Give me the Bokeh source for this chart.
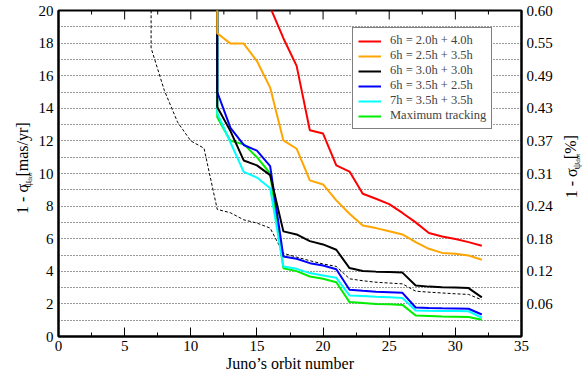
import math
from bokeh.plotting import figure
from bokeh.layouts import row
from bokeh.models import (Range1d, LinearAxis, SingleIntervalTicker, FixedTicker,
                          Legend, LegendItem)
from bokeh.core.properties import value
from bokeh.embed import file_html
from bokeh.resources import INLINE

# ---------------- data ----------------
orbits_red = [16, 17, 18, 19, 20, 21, 22, 23, 24, 25, 26, 27, 28, 29, 30, 31, 32]
red = [20.2, 18.3, 16.6, 12.65, 12.45, 10.5, 10.12, 8.76, 8.45, 8.12, 7.58, 7.0, 6.35, 6.14, 5.98, 5.79, 5.57]

orbits = [12, 12, 13, 14, 15, 16, 17, 18, 19, 20, 21, 22, 23, 24, 25, 26, 27, 28, 29, 30, 31, 32]
orange = [24, 18.6, 17.97, 17.97, 16.9, 15.27, 12.03, 11.52, 9.58, 9.33, 8.35, 7.53, 6.81, 6.65, 6.46, 6.26, 5.79, 5.38, 5.13, 5.07, 4.97, 4.71]
black = [24, 14.08, 12.6, 10.8, 10.5, 9.9, 6.45, 6.26, 5.85, 5.65, 5.32, 4.2, 4.02, 3.98, 3.95, 3.92, 3.13, 3.06, 3.02, 3.0, 2.97, 2.4]
blue = [24, 15.0, 12.8, 11.75, 11.4, 10.45, 4.91, 4.77, 4.5, 4.36, 4.13, 2.87, 2.8, 2.75, 2.72, 2.68, 1.78, 1.75, 1.73, 1.72, 1.70, 1.35]
cyan = [24, 13.7, 11.9, 10.1, 9.75, 9.1, 4.3, 4.15, 3.89, 3.74, 3.6, 2.52, 2.48, 2.44, 2.41, 2.36, 1.6, 1.58, 1.57, 1.56, 1.55, 1.15]
green = [24, 13.45, 12.0, 11.8, 11.0, 10.0, 4.19, 4.01, 3.68, 3.54, 3.33, 2.11, 2.06, 2.0, 1.98, 1.94, 1.29, 1.26, 1.23, 1.21, 1.19, 1.03]

orbits_dash = [7, 7, 8, 9, 10, 11, 12, 13, 14, 15, 16, 17, 18, 19, 20, 21, 22, 23, 24, 25, 26, 27, 28, 29, 30, 31, 32]
dashed = [24, 17.7, 15.1, 13.15, 12.0, 11.55, 7.8, 7.59, 7.16, 6.96, 6.65, 5.1, 4.87, 4.65, 4.45, 4.3, 3.54, 3.42, 3.33, 3.28, 3.23, 2.78, 2.72, 2.67, 2.62, 2.58, 2.25]

legend_labels = ["6h = 2.0h + 4.0h", "6h = 2.5h + 3.5h", "6h = 3.0h + 3.0h",
                 "6h = 3.5h + 2.5h", "7h = 3.5h + 3.5h", "Maximum tracking"]

right_ticks = [2, 4, 6, 8, 10, 12, 14, 16, 18, 20]
right_tick_labels = ["0.06", "0.12", "0.18", "0.24", "0.31", "0.37", "0.43", "0.49", "0.55", "0.60"]

x_major = [0, 5, 10, 15, 20, 25, 30, 35]
x_minor = [2.5, 7.5, 12.5, 17.5, 22.5, 27.5, 32.5]

# y-axis title pieces: text, font size
left_title = [("1 - σ", "16px"), ("ψ", "11px"), ("dot", "7px"), ("[mas/yr]", "16px")]
right_title = [("1 - σ", "16px"), ("ψ", "11px"), ("dot", "7px"), ("[%]", "16px")]

FONT = "Liberation Serif"

# ---------------- geometry ----------------
TOTAL_W, H = 582, 375
LW, RW = 35, 27                      # widths of the side title panels
FL, FT, FW, FH = 58, 10, 465, 326    # frame position on the page
MW = TOTAL_W - LW - RW               # main figure width
Y_FIX = 15                           # observed vertical offset of rotated text

# ---------------- main figure ----------------
p = figure(width=MW, height=H, x_range=Range1d(0, 35), y_range=Range1d(0, 20),
           output_backend="svg", toolbar_location=None,
           min_border_left=FL - LW, min_border_right=MW - (FL - LW) - FW,
           min_border_top=FT, min_border_bottom=H - FT - FH)
p.background_fill_color = "white"
p.border_fill_color = "white"
p.outline_line_color = "black"
p.outline_line_width = 2

p.xgrid.visible = False
p.ygrid.ticker = SingleIntervalTicker(interval=1)
p.ygrid.grid_line_color = "#333333"
p.ygrid.grid_line_dash = "1 2"
p.ygrid.grid_line_width = 1

xa = p.xaxis[0]
xa.ticker = SingleIntervalTicker(interval=5, num_minor_ticks=2)
xa.major_tick_in = 9
xa.major_tick_out = 0
xa.minor_tick_in = 4
xa.minor_tick_out = 0
xa.axis_line_width = 2
xa.major_label_text_font = FONT
xa.major_label_text_font_size = "15px"
xa.major_label_text_line_height = 1.0
xa.major_label_standoff = 4
xa.major_label_text_color = "black"
xa.axis_label = "Juno’s orbit number"
xa.axis_label_text_font = FONT
xa.axis_label_text_font_size = "16px"
xa.axis_label_text_font_style = "normal"
xa.axis_label_text_line_height = 1.0
xa.axis_label_standoff = 1
xa.axis_label_text_color = "black"

px_per_y = FH / 20.0
p.segment(x0=x_major, x1=x_major, y0=[20] * len(x_major), y1=[20 - 9 / px_per_y] * len(x_major),
          line_color="black", line_width=1)
p.segment(x0=x_minor, x1=x_minor, y0=[20] * len(x_minor), y1=[20 - 4 / px_per_y] * len(x_minor),
          line_color="black", line_width=1)

ya = p.yaxis[0]
ya.ticker = SingleIntervalTicker(interval=2)
ya.major_tick_in = 0
ya.major_tick_out = 0
ya.minor_tick_in = 0
ya.minor_tick_out = 0
ya.axis_line_width = 2
ya.major_label_text_font = FONT
ya.major_label_text_font_size = "15px"
ya.major_label_standoff = 5
ya.major_label_text_color = "black"

ra = LinearAxis(ticker=FixedTicker(ticks=right_ticks),
                major_label_overrides={t: l for t, l in zip(right_ticks, right_tick_labels)})
ra.major_tick_in = 0
ra.major_tick_out = 0
ra.minor_tick_in = 0
ra.minor_tick_out = 0
ra.axis_line_width = 2
ra.major_label_text_font = FONT
ra.major_label_text_font_size = "15px"
ra.major_label_standoff = 5
ra.major_label_text_color = "black"
p.add_layout(ra, "right")

p.line(orbits_dash, dashed, line_color="black", line_width=1, line_dash="3 2")
r_green = p.line(orbits, green, line_color="#00ee00", line_width=2)
r_cyan = p.line(orbits, cyan, line_color="#00ffff", line_width=2)
r_blue = p.line(orbits, blue, line_color="#0000ff", line_width=2)
r_black = p.line(orbits, black, line_color="black", line_width=2)
r_orange = p.line(orbits, orange, line_color="#ffa500", line_width=2)
r_red = p.line(orbits_red, red, line_color="#ff0000", line_width=2)

renderers = [r_red, r_orange, r_black, r_blue, r_cyan, r_green]
legend = Legend(items=[LegendItem(label=l, renderers=[r]) for l, r in zip(legend_labels, renderers)],
                location=(294, 207), label_text_font=FONT, label_text_font_size="12.5px",
                label_text_line_height=1.0,
                border_line_color="black", border_line_width=1, background_fill_alpha=1,
                glyph_width=23, glyph_height=12, label_height=12, spacing=0, padding=5,
                margin=0, label_standoff=9)
p.add_layout(legend)

# ---------------- side title panels ----------------
def title_panel(width, pieces, positions):
    f = figure(width=width, height=H, x_range=Range1d(0, width), y_range=Range1d(0, H),
               output_backend="svg", toolbar_location=None, title=None,
               x_axis_type=None, y_axis_type=None,
               min_border=0, min_border_left=0, min_border_right=0,
               min_border_top=0, min_border_bottom=0)
    f.outline_line_color = None
    f.background_fill_color = "white"
    f.border_fill_color = "white"
    for (txt, size), (px, py) in zip(pieces, positions):
        f.text(x=[px], y=[H - (py + Y_FIX)], text=[txt], angle=math.pi / 2,
               text_font=value(FONT), text_font_size=value(size),
               text_color="black", text_align="left", text_baseline="alphabetic")
    return f

# page positions of each piece's baseline start
left_pos = [(22, 219), (26, 189), (29, 182), (22, 176)]
right_off = LW + MW
right_pos = [(571 - right_off, 201), (575 - right_off, 168), (577 - right_off, 160), (570 - right_off, 156)]

fl = title_panel(LW, left_title, left_pos)
fr = title_panel(RW, right_title, right_pos)

layout = row(fl, p, fr, spacing=0)
open("out.html", "w").write(file_html(layout, INLINE))
